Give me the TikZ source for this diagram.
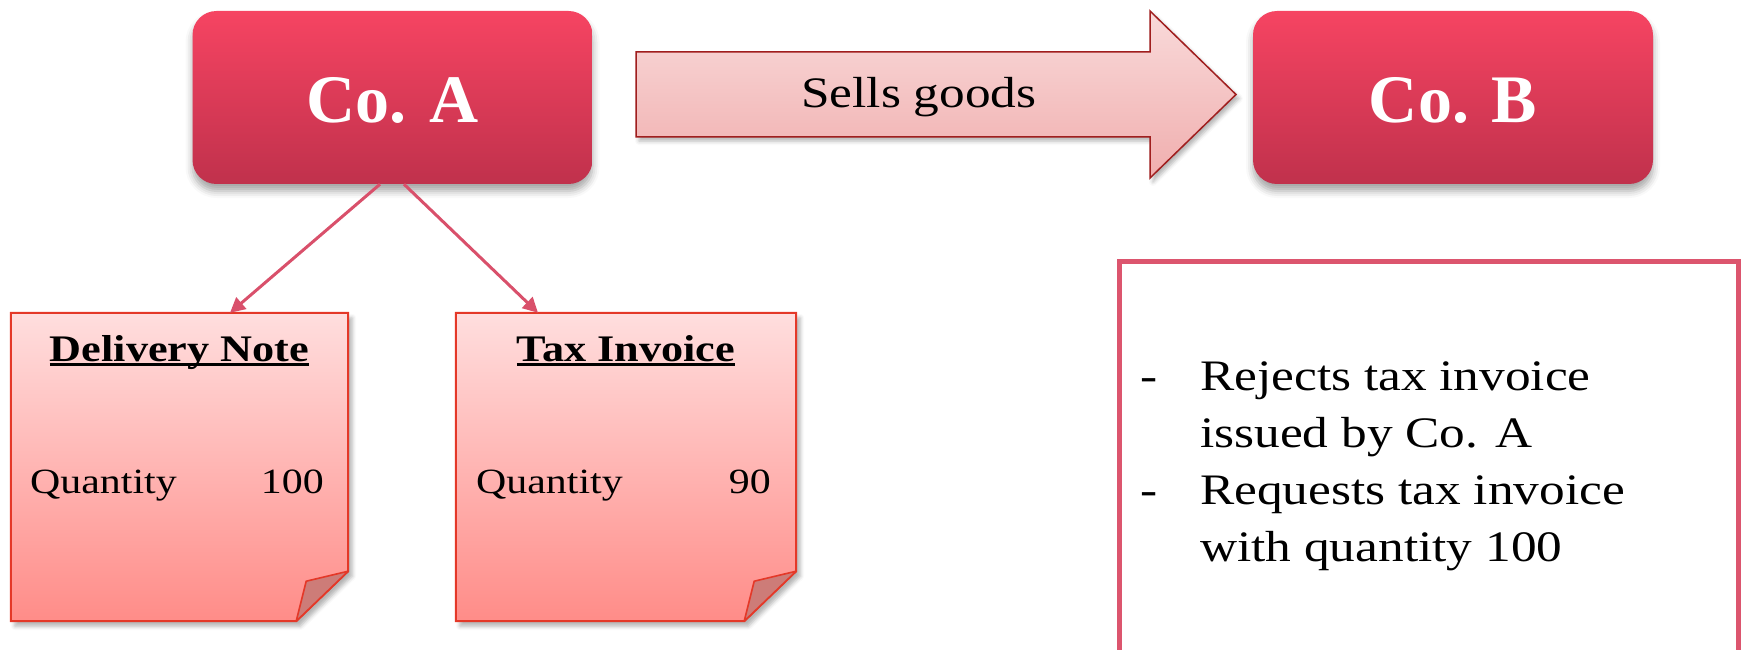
\documentclass[tikz,border=0pt]{standalone}
\usepackage{fontspec}
\setmainfont{Liberation Serif}
\newfontfamily\widefont[FakeStretch=1.18]{Liberation Serif}
\usetikzlibrary{calc,arrows.meta,shadows.blur}

\definecolor{coTop}{RGB}{246,68,98}
\definecolor{coBot}{RGB}{192,49,76}
\definecolor{linkRed}{RGB}{217,80,107}
\definecolor{docTop}{RGB}{255,222,222}
\definecolor{docBot}{RGB}{255,140,136}
\definecolor{docEdge}{RGB}{228,56,40}
\definecolor{flapFill}{RGB}{205,124,120}
\definecolor{arrTop}{RGB}{249,218,218}
\definecolor{arrBot}{RGB}{240,174,174}
\definecolor{arrEdge}{RGB}{160,30,30}
\definecolor{noteEdge}{RGB}{220,85,110}

% underlined heading with the rule just under the baseline
\newcommand\docheading[1]{\setbox0=\hbox{#1}\rlap{\rule[-4.5pt]{\wd0}{2.2pt}}\box0}

\tikzset{
  company/.style={rounded corners=24pt, minimum width=400pt, minimum height=173pt,
    inner sep=0pt, top color=coTop, bottom color=coBot, text=white,
    font=\fontsize{68}{80}\selectfont\bfseries, text height=51pt, text depth=0pt,
    blur shadow={shadow xshift=0pt, shadow yshift=-7pt, shadow blur radius=7pt, shadow opacity=35}},
  docframe/.style={minimum height=308pt, inner sep=0pt},
  docsheet/.style={draw=docEdge, line width=2pt, top color=docTop, bottom color=docBot,
    blur shadow={shadow xshift=4pt, shadow yshift=-5pt, shadow blur radius=4pt, shadow opacity=30}},
  docflap/.style={draw=docEdge, line width=1.6pt, fill=flapFill, line join=round},
  doctitle/.style={anchor=base, inner sep=0pt, font=\widefont\bfseries\fontsize{37.5}{44}\selectfont},
  doctext/.style={inner sep=0pt, font=\widefont\fontsize{35.5}{42}\selectfont},
  link/.style={draw=linkRed, line width=3pt, -{Triangle[length=15pt,width=15pt]}},
  flowarrow/.style={draw=arrEdge, line width=1.5pt, top color=arrTop, bottom color=arrBot,
    blur shadow={shadow xshift=3pt, shadow yshift=-4pt, shadow blur radius=4pt, shadow opacity=30}},
  notebox/.style={draw=noteEdge, line width=5pt, fill=white},
}

\begin{document}
\begin{tikzpicture}[x=1pt,y=-1pt]
\clip (0,0) rectangle (1741,650);

% companies
\node[company] (coA) at (392.5,97.5) {Co. A};
\node[company] (coB) at (1453,97.5) {Co. B};

% sales arrow
\path[flowarrow] (636,52) -- (1150,52) -- (1150,11) -- (1236,94.5) -- (1150,178)
  -- (1150,137) -- (636,137) -- cycle;
\node[anchor=base west, inner sep=0pt, font=\widefont\fontsize{43.5}{50}\selectfont]
  (sells) at (801,108) {Sells goods};

% documents issued by Co. A
\node[docframe, minimum width=337pt] (dn) at (179.5,467) {};
\node[docframe, minimum width=340pt] (ti) at (626,467) {};
\foreach \d in {dn,ti}{
  \path[docsheet] (\d.north west) -- (\d.north east) -- ($(\d.south east)+(0,-50)$)
    -- ($(\d.south east)+(-52,0)$) -- (\d.south west) -- cycle;
  \path[docflap] ($(\d.south east)+(0,-50)$) -- ($(\d.south east)+(-42,-40)$)
    -- ($(\d.south east)+(-52,0)$) -- cycle;
}
\node[doctitle] (dnTitle) at (179.5,361) {\docheading{Delivery Note}};
\node[doctext, anchor=base west] (dnQty) at (30,493) {Quantity};
\node[doctext, anchor=base east] (dnVal) at (324,493) {100};
\node[doctitle] (tiTitle) at (626,361) {\docheading{Tax Invoice}};
\node[doctext, anchor=base west] (tiQty) at (476,493) {Quantity};
\node[doctext, anchor=base east] (tiVal) at (771,493) {90};

\draw[link] ($(coA.south)+(-12.5,0)$) -- ($(dn.north)+(50.5,0)$);
\draw[link] ($(coA.south)+(11.5,0)$) -- ($(ti.north)+(-88,0)$);

% Co. B's response
\path[notebox] (1119.5,261) rectangle (1738.5,720);
\node[anchor=base west, inner sep=0pt, align=left,
  font=\widefont\fontsize{43.5}{57.3}\selectfont] (reply) at (1140,390)
  {\begin{tabular}[t]{@{}p{60pt}@{}l@{}}
   -& Rejects tax invoice\\
    & issued by Co. A\\
   -& Requests tax invoice\\
    & with quantity 100
   \end{tabular}};
\end{tikzpicture}
\end{document}
